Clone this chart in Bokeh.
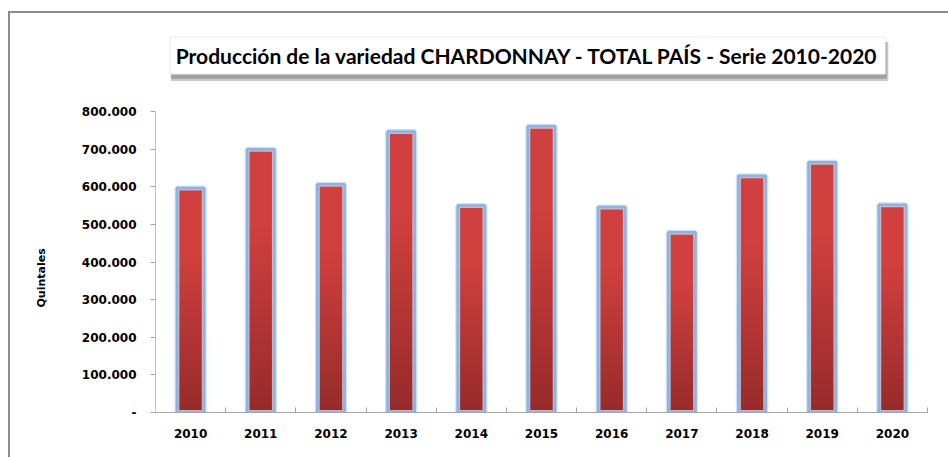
import numpy as np
from bokeh.plotting import figure
from bokeh.models import Range1d, FixedTicker, Label, ColumnDataSource, Title
from bokeh.embed import file_html
from bokeh.resources import INLINE

years = ["2010", "2011", "2012", "2013", "2014", "2015", "2016", "2017", "2018", "2019", "2020"]
values = [597000, 700000, 607000, 747000, 550000, 761000, 546000, 479000, 629000, 665000, 552000]
y_ticks = [0, 100000, 200000, 300000, 400000, 500000, 600000, 700000, 800000]
y_tick_labels = ["-", "100.000", "200.000", "300.000", "400.000", "500.000", "600.000", "700.000", "800.000"]
title_text = "Producción de la variedad CHARDONNAY - TOTAL PAÍS - Serie 2010-2020"
y_title = "Quintales"

xs = list(range(len(years)))

p = figure(width=948, height=457, output_backend="svg", toolbar_location=None,
           x_range=Range1d(-0.5, len(years) - 0.5), y_range=Range1d(0, 1042000),
           min_border_left=155, min_border_right=21, min_border_top=20, min_border_bottom=45)
p.outline_line_color = None
p.xgrid.grid_line_color = None
p.ygrid.grid_line_color = None
p.background_fill_color = "white"
p.border_fill_color = "white"
p.stylesheets = [":host::after { content: ''; position: absolute; left: 8px; top: 11px; "
                 "width: 1000px; height: 500px; border-left: 2px solid #8c8c8c; "
                 "border-top: 2px solid #8c8c8c; pointer-events: none; z-index: 10; }"]

# gradient: overlapping slices, tallest (lightest) first
N = 30
top_c = np.array([208, 64, 62])
bot_c = np.array([150, 42, 42])
sx, sb, st, sc = [], [], [], []
for k in range(N - 1, -1, -1):
    f = (k + 0.5) / N
    c = bot_c + (top_c - bot_c) * min(1.0, f * 1.4)
    col = "#%02x%02x%02x" % tuple(int(round(t)) for t in c)
    for i, v in zip(xs, values):
        sx.append(i)
        sb.append(0)
        st.append(v * (k + 1) / N)
        sc.append(col)
p.vbar(x=sx, bottom=sb, top=st, width=0.39, fill_color=sc, line_color=None)

# glow + border
src = ColumnDataSource(dict(x=xs, top=values))
p.vbar(x="x", top="top", bottom=0, width=0.39, source=src, fill_color=None,
       line_color="#c6d9f1", line_width=5, line_alpha=0.8)
p.vbar(x="x", top="top", bottom=0, width=0.39, source=src, fill_color=None,
       line_color="#8db3e2", line_width=2.5)

# axes
xa = p.xaxis[0]
xa.ticker = FixedTicker(ticks=xs, minor_ticks=[i - 0.5 for i in range(len(years) + 1)])
xa.major_label_overrides = {i: y for i, y in zip(xs, years)}
xa.major_tick_line_color = None
xa.minor_tick_line_color = "#a6a6a6"
xa.minor_tick_in = 5
xa.minor_tick_out = 0
xa.axis_line_color = "#a6a6a6"
xa.major_label_standoff = 10
xa.major_label_text_font = "DejaVu Sans"
xa.major_label_text_font_style = "bold"
xa.major_label_text_font_size = "12px"
xa.major_label_text_color = "#000000"

ya = p.yaxis[0]
ya.ticker = FixedTicker(ticks=y_ticks, minor_ticks=[])
ya.bounds = (y_ticks[0], y_ticks[-1])
ya.major_label_overrides = {t: l for t, l in zip(y_ticks, y_tick_labels)}
ya.major_tick_in = 0
ya.major_tick_out = 5
ya.major_tick_line_color = "#a6a6a6"
ya.axis_line_color = "#c0c0c0"
ya.major_label_standoff = 14
ya.major_label_text_font = "DejaVu Sans"
ya.major_label_text_font_style = "bold"
ya.major_label_text_font_size = "12px"
ya.major_label_text_color = "#000000"

# y axis title as a side title
ytitle = Title(text=y_title, align="left", offset=105, standoff=62,
               text_font="DejaVu Sans", text_font_style="bold", text_font_size="11px",
               text_color="#000000")
p.add_layout(ytitle, "left")

# title box with shadow (data units inside the frame)
shadow2 = Label(x=4.83, y=933000, text=title_text,
                text_font="Lato", text_font_style="bold", text_font_size="21px",
                text_align="center", text_baseline="middle", text_color="#c8c8c8",
                background_fill_color="#c8c8c8", background_fill_alpha=1.0,
                padding=7)
p.add_layout(shadow2)
shadow = Label(x=4.82, y=936500, text=title_text,
               text_font="Lato", text_font_style="bold", text_font_size="21px",
               text_align="center", text_baseline="middle", text_color="#a0a0a0",
               background_fill_color="#a0a0a0", background_fill_alpha=1.0,
               padding=6)
p.add_layout(shadow)
title = Label(x=4.80, y=948800, text=title_text,
              text_font="Lato", text_font_style="bold", text_font_size="21px",
              text_align="center", text_baseline="middle", text_color="#000000",
              background_fill_color="white", border_line_color="#ececec",
              padding=6)
p.add_layout(title)

open("out.html", "w").write(file_html(p, INLINE))
